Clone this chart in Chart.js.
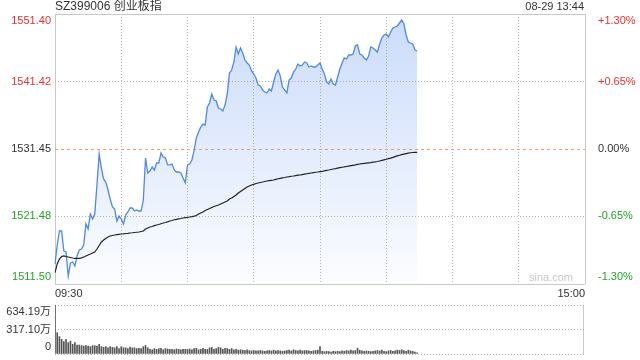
<!DOCTYPE html>
<html>
<head>
<meta charset="utf-8">
<script src="https://cdn.jsdelivr.net/npm/chart.js@4.4.0/dist/chart.umd.min.js"></script>
<style>
    html, body { margin: 0; padding: 0; background: #fff; overflow: hidden; }
    #wrap { position: relative; width: 640px; height: 360px; }
    #priceChart { position: absolute; left: 0; top: 0; }
    #volumeChart { position: absolute; left: 0; top: 291px; }
</style>
</head>
<body>
<div id="wrap">
    <canvas id="priceChart" width="640" height="300"></canvas>
    <canvas id="volumeChart" width="640" height="77"></canvas>
</div>
<script>
// Intraday data for SZ399006, 09:30 -> 13:44 (one point per minute)
const title = 'SZ399006 创业板指';
const stamp = '08-29 13:44';
const preClose = 1531.45;

const prices = [
    1514.46, 1517.26, 1519.33, 1519.33, 1516.38, 1516.23, 1512.68, 1514.60, 1514.75, 1514.16,
    1515.64, 1516.52, 1516.67, 1517.26, 1520.37, 1519.63, 1521.84, 1521.11, 1521.84, 1526.13,
    1530.71, 1528.64, 1527.02, 1526.57, 1525.39, 1524.06, 1522.88, 1522.58, 1520.81, 1521.55,
    1521.11, 1520.37, 1521.70, 1522.14, 1522.73, 1522.73, 1522.29, 1522.44, 1522.29, 1522.29,
    1523.91, 1530.12, 1527.90, 1528.20, 1528.79, 1528.35, 1529.38, 1529.38, 1530.86, 1530.27,
    1530.12, 1529.09, 1529.09, 1529.23, 1528.35, 1528.05, 1528.05, 1527.90, 1527.16, 1526.43,
    1529.09, 1529.23, 1529.82, 1531.30, 1533.08, 1533.96, 1534.70, 1535.14, 1535.00, 1537.66,
    1538.25, 1539.58, 1538.69, 1538.54, 1537.51, 1537.36, 1537.07, 1537.95, 1539.58, 1542.68,
    1543.12, 1544.31, 1546.52, 1545.49, 1546.38, 1545.64, 1544.60, 1544.16, 1543.86, 1542.98,
    1542.53, 1541.94, 1540.91, 1540.76, 1540.17, 1539.87, 1539.73, 1540.32, 1540.02, 1541.35,
    1542.53, 1543.12, 1542.24, 1540.61, 1540.17, 1539.73, 1541.65, 1541.94, 1542.83, 1543.27,
    1544.01, 1543.72, 1543.86, 1544.31, 1544.16, 1543.57, 1543.72, 1543.57, 1543.57, 1543.86,
    1544.16, 1543.27, 1542.53, 1541.36, 1541.06, 1541.79, 1541.06, 1540.91, 1542.09, 1543.27,
    1544.16, 1544.90, 1544.75, 1545.34, 1545.34, 1545.49, 1546.67, 1546.82, 1545.49, 1545.34,
    1544.90, 1544.60, 1545.19, 1546.52, 1546.38, 1546.08, 1545.78, 1546.97, 1547.85, 1548.30,
    1548.44, 1548.00, 1548.74, 1549.33, 1549.48, 1549.63, 1550.07, 1550.51, 1549.92, 1548.30,
    1547.26, 1547.11, 1546.97, 1546.08, 1545.93
];

const avgPrices = [
    1513.17, 1514.46, 1515.19, 1515.56, 1515.64, 1515.56, 1515.49, 1515.42, 1515.34, 1515.30,
    1515.30, 1515.30, 1515.37, 1515.49, 1515.64, 1515.79, 1515.93, 1516.08, 1516.23, 1516.67,
    1517.19, 1517.71, 1518.00, 1518.22, 1518.45, 1518.59, 1518.67, 1518.74, 1518.79, 1518.84,
    1518.89, 1518.92, 1518.96, 1518.99, 1519.04, 1519.07, 1519.11, 1519.15, 1519.18, 1519.26,
    1519.33, 1519.63, 1519.78, 1519.92, 1520.00, 1520.12, 1520.22, 1520.29, 1520.41, 1520.51,
    1520.59, 1520.69, 1520.81, 1520.88, 1520.99, 1521.06, 1521.13, 1521.18, 1521.25, 1521.30,
    1521.33, 1521.40, 1521.45, 1521.52, 1521.62, 1521.84, 1521.99, 1522.14, 1522.36, 1522.51,
    1522.66, 1522.81, 1522.95, 1523.07, 1523.17, 1523.32, 1523.47, 1523.62, 1523.77, 1524.06,
    1524.21, 1524.43, 1524.65, 1524.95, 1525.17, 1525.39, 1525.61, 1525.83, 1525.98, 1526.13,
    1526.23, 1526.35, 1526.43, 1526.50, 1526.57, 1526.65, 1526.72, 1526.77, 1526.82, 1526.87,
    1526.97, 1527.05, 1527.12, 1527.19, 1527.24, 1527.31, 1527.36, 1527.42, 1527.46, 1527.52,
    1527.58, 1527.61, 1527.67, 1527.73, 1527.79, 1527.84, 1527.90, 1527.96, 1528.01, 1528.05,
    1528.10, 1528.15, 1528.23, 1528.29, 1528.35, 1528.42, 1528.49, 1528.55, 1528.63, 1528.69,
    1528.75, 1528.80, 1528.86, 1528.92, 1528.98, 1529.04, 1529.10, 1529.17, 1529.23, 1529.28,
    1529.32, 1529.37, 1529.41, 1529.45, 1529.50, 1529.54, 1529.60, 1529.68, 1529.76, 1529.85,
    1529.94, 1530.02, 1530.10, 1530.21, 1530.33, 1530.43, 1530.53, 1530.62, 1530.70, 1530.77,
    1530.84, 1530.90, 1530.93, 1530.95, 1530.96
];

// volume, 万
const volumes = [
    634, 276, 224, 190, 160, 190, 147, 168, 125, 147,
    116, 116, 108, 103, 108, 103, 95, 108, 108, 103,
    125, 95, 86, 95, 80, 95, 86, 80, 95, 70,
    95, 80, 80, 70, 90, 80, 80, 70, 75, 70,
    95, 110, 80, 60, 55, 70, 60, 70, 75, 55,
    70, 65, 60, 60, 55, 65, 60, 55, 60, 60,
    60, 65, 55, 70, 75, 55, 60, 75, 60, 60,
    80, 85, 60, 70, 85, 80, 60, 75, 70, 60,
    70, 55, 60, 50, 55, 50, 45, 55, 45, 40,
    45, 40, 40, 45, 40, 35, 40, 45, 40, 50,
    40, 45, 40, 35, 40, 45, 50, 40, 55, 45,
    40, 50, 40, 45, 45, 40, 35, 40, 45, 50,
    95, 35, 30, 35, 30, 25, 35, 30, 35, 30,
    40, 35, 45, 40, 50, 40, 45, 75, 50, 40,
    35, 40, 35, 30, 35, 40, 45, 40, 50, 35,
    30, 40, 45, 35, 40, 50, 45, 55, 45, 35,
    50, 40, 35, 25, 15
];

const priceTicks = [1511.50, 1521.48, 1531.45, 1541.42, 1551.40];
const pctTicks = ['-1.30%', '-0.65%', '0.00%', '+0.65%', '+1.30%'];
const volTicks = [0, 317.10, 634.19];
const volTickLabels = ['0', '317.10万', '634.19万'];
const timeTicks = ['09:30', '15:00'];

// one category per trading minute (lunch break collapsed)
const timeLabels = [];
for (let m = 0; m <= 240; m++) {
    const t = m <= 120 ? 570 + m : 780 + (m - 120);
    timeLabels.push(String(Math.floor(t / 60)).padStart(2, '0') + ':' + String(t % 60).padStart(2, '0'));
}
const lastIdx = timeLabels.length - 1;

const FONT = '"Liberation Sans", Arial, "Noto Sans CJK SC", sans-serif';
const RED = '#ee3030';
const GREEN = '#22a522';
const BLACK = '#333';
const FRAME = '#c8c8c8';
const DOT = '#b4b4b4';

Chart.defaults.font.family = FONT;
Chart.defaults.font.size = 11;
Chart.defaults.color = BLACK;

function upDownColor(v) {
    if (v > preClose + 0.001) return RED;
    if (v < preClose - 0.001) return GREEN;
    return BLACK;
}

// push edge labels inside the plot (an empty line shifts them half a line)
function edgeLabel(text, i, n) {
    if (i === 0) return [text, ''];
    if (i === n - 1) return ['', text];
    return text;
}

const fixedTicks = list => scale => { scale.ticks = list.map(v => ({ value: v })); };

// fixed axis width, and no extra label padding pushing the plot area around
const fitY = scale => {
    scale.width = 55;
    scale.paddingTop = 0;
    scale.paddingBottom = 0;
};

const headerPlugin = {
    id: 'header',
    afterDraw(chart) {
        const { ctx, chartArea } = chart;
        ctx.save();
        ctx.textBaseline = 'middle';
        ctx.fillStyle = BLACK;
        ctx.font = '12px ' + FONT;
        ctx.textAlign = 'left';
        ctx.fillText(title, chartArea.left, 7);
        ctx.font = '11px ' + FONT;
        ctx.textAlign = 'right';
        ctx.fillText(stamp, chartArea.right - 1, 7);
        ctx.fillStyle = '#c8c8c8';
        ctx.fillText('sina.com', chartArea.right - 12, chartArea.bottom - 6);
        ctx.restore();
    }
};

// Price chart
new Chart(document.getElementById('priceChart'), {
    type: 'line',
    data: {
        labels: timeLabels,
        datasets: [{
            data: avgPrices,
            borderColor: '#222',
            borderWidth: 1.2,
            pointRadius: 0,
            fill: false
        }, {
            data: prices,
            borderColor: '#4d88ee',
            borderWidth: 1.3,
            pointRadius: 0,
            fill: 'start',
            backgroundColor: ctx => {
                const area = ctx.chart.chartArea;
                if (!area) return 'rgba(90, 143, 240, 0.15)';
                const g = ctx.chart.ctx.createLinearGradient(0, area.top, 0, area.bottom);
                g.addColorStop(0, 'rgba(90, 143, 240, 0.32)');
                g.addColorStop(1, 'rgba(90, 143, 240, 0.02)');
                return g;
            }
        }]
    },
    options: {
        responsive: false,
        animation: false,
        layout: { padding: { top: 14 } },
        plugins: {
            legend: { display: false },
            tooltip: { enabled: false }
        },
        scales: {
            x: {
                afterFit: s => { s.height = 16; },
                grid: {
                    drawTicks: false,
                    color: ctx => {
                        if (ctx.index === 0 || ctx.index === lastIdx) return FRAME;
                        return ctx.index % 30 === 0 ? DOT : 'transparent';
                    }
                },
                border: {
                    display: false,
                    dash: ctx => (ctx.index === undefined || ctx.index === 0 || ctx.index === lastIdx) ? [] : [1, 2]
                },
                ticks: {
                    autoSkip: false,
                    maxRotation: 0,
                    align: 'inner',
                    padding: 3,
                    color: BLACK,
                    callback: (v, i) => i === 0 ? timeTicks[0] : (i === lastIdx ? timeTicks[1] : '')
                }
            },
            y: {
                position: 'left',
                min: priceTicks[0],
                max: priceTicks[priceTicks.length - 1],
                afterBuildTicks: fixedTicks(priceTicks),
                afterFit: fitY,
                grid: {
                    drawTicks: false,
                    color: ctx => {
                        if (ctx.index === 0 || ctx.index === priceTicks.length - 1) return FRAME;
                        return ctx.index === 2 ? '#f0a070' : DOT;
                    }
                },
                border: {
                    display: false,
                    dash: ctx => {
                        if (ctx.index === undefined || ctx.index === 0 || ctx.index === priceTicks.length - 1) return [];
                        return ctx.index === 2 ? [3, 3] : [1, 2];
                    }
                },
                ticks: {
                    autoSkip: false,
                    padding: 4,
                    color: ctx => upDownColor(ctx.tick.value),
                    callback: (v, i) => edgeLabel(v.toFixed(2), i, priceTicks.length)
                }
            },
            y1: {
                position: 'right',
                min: priceTicks[0],
                max: priceTicks[priceTicks.length - 1],
                afterBuildTicks: fixedTicks(priceTicks),
                afterFit: fitY,
                grid: { display: false },
                border: { display: false },
                ticks: {
                    autoSkip: false,
                    padding: 5,
                    color: ctx => upDownColor(ctx.tick.value),
                    callback: (v, i) => edgeLabel(pctTicks[i], i, pctTicks.length)
                }
            }
        }
    },
    plugins: [headerPlugin]
});

// Volume chart
new Chart(document.getElementById('volumeChart'), {
    type: 'bar',
    data: {
        labels: timeLabels,
        datasets: [{
            data: volumes,
            backgroundColor: '#555',
            barThickness: 1
        }]
    },
    options: {
        responsive: false,
        animation: false,
        layout: { padding: { top: 14, bottom: 14, right: 55 } },
        plugins: {
            legend: { display: false },
            tooltip: { enabled: false }
        },
        scales: {
            x: {
                offset: false,
                afterFit: s => { s.height = 0; },
                ticks: { display: false },
                grid: {
                    drawTicks: false,
                    color: ctx => (ctx.index === 0 || ctx.index === lastIdx) ? FRAME : 'transparent'
                },
                border: { display: false }
            },
            y: {
                min: volTicks[0],
                max: volTicks[volTicks.length - 1],
                afterBuildTicks: fixedTicks(volTicks),
                afterFit: fitY,
                grid: { drawTicks: false, color: DOT },
                border: { display: false, dash: ctx => ctx.index === undefined ? [] : [1, 2] },
                ticks: {
                    autoSkip: false,
                    padding: 4,
                    color: BLACK,
                    callback: (v, i) => edgeLabel(volTickLabels[i], i, volTickLabels.length)
                }
            }
        }
    }
});
</script>
</body>
</html>
